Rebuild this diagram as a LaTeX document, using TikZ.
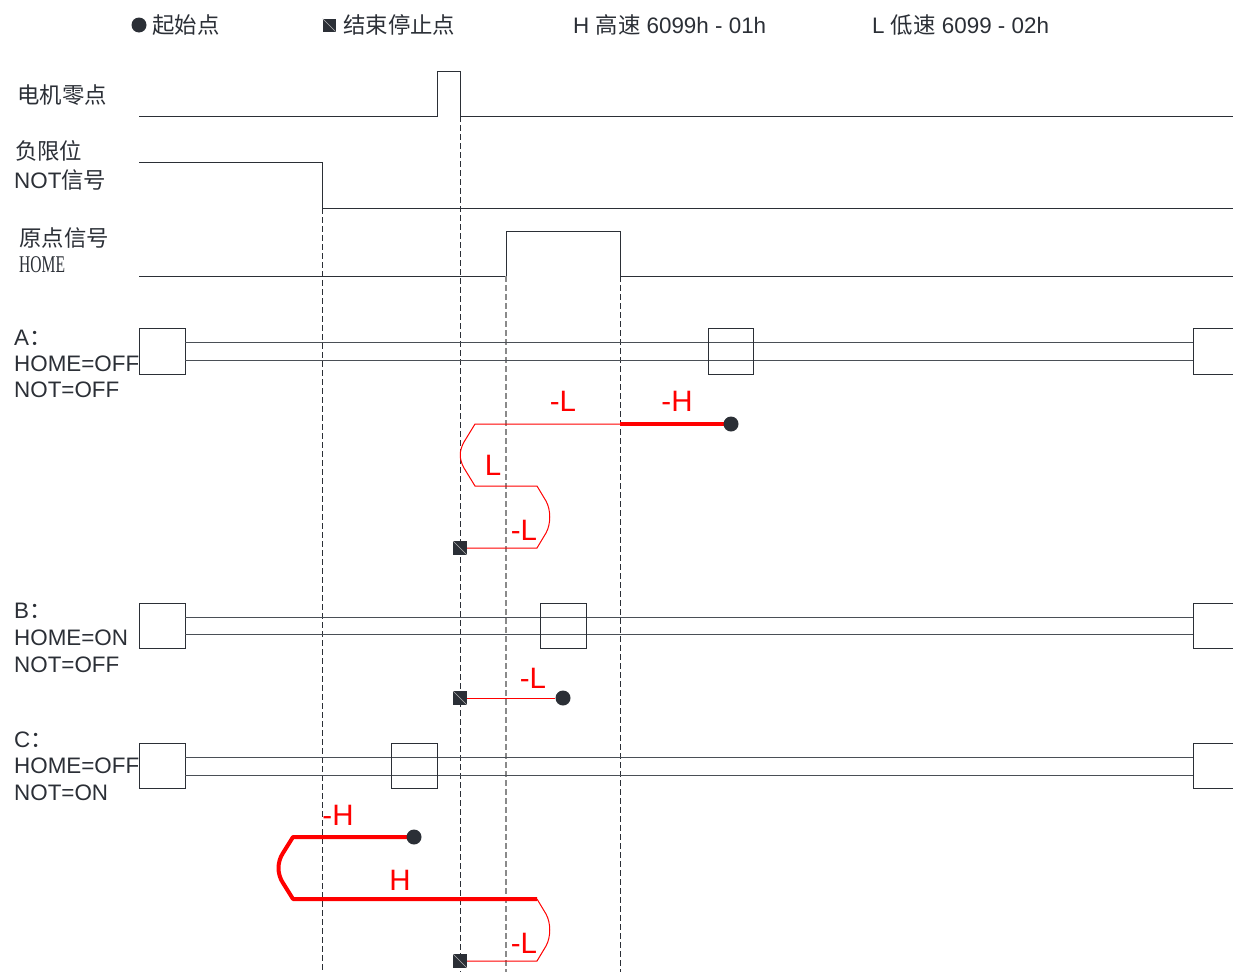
\documentclass[tikz,border=0pt]{standalone}
\usepackage{fontspec}
\setmainfont{Liberation Sans}
\newfontfamily\cjk{Noto Sans CJK SC}
\newfontfamily\serifn{Liberation Serif}
\definecolor{ink}{HTML}{2B2F36}
\definecolor{railc}{HTML}{4A4F56}
\definecolor{dashg}{HTML}{8A8A8A}
\begin{document}
\begin{tikzpicture}[x=1pt,y=-1pt,
 sigline/.style={draw=ink, line width=0.9pt},
 vdash/.style={draw=ink, line width=0.8pt, dash pattern=on 6pt off 3pt},
 vdashlight/.style={draw=dashg, line width=1.3pt, dash pattern=on 6pt off 3pt},
 rail/.style={draw=railc, line width=0.9pt},
 cbox/.style={draw=ink, line width=0.9pt},
 thinred/.style={draw=red, line width=1pt},
 thickred/.style={draw=red, line width=4pt},
 dotm/.style={circle, fill=ink, minimum size=15pt, inner sep=0pt},
 sqm/.style={rectangle, fill=ink, minimum size=14pt, inner sep=0pt,
   path picture={\draw[gray!60, line width=0.6pt] (path picture bounding box.north west) -- (path picture bounding box.south east);}},
 lab/.style={font=\fontsize{22.4}{26}\selectfont, text=ink, inner sep=0pt, anchor=west},
 rlab/.style={font=\fontsize{29.5}{32}\selectfont, text=red, inner sep=0pt},
]
\useasboundingbox (0,0) rectangle (1233,972);

% legend
\node[dotm, minimum size=15pt] (lg1) at (139,25) {};
\node[lab] (lg1t) at (152,25) {\cjk 起始点};
\node[sqm, minimum size=13pt] (lg2) at (329,25) {};
\node[lab] (lg2t) at (343,25) {\cjk 结束停止点};
\node[lab] (lg3) at (573,25) {H {\cjk 高速} 6099h - 01h};
\node[lab] (lg4) at (872,25) {L {\cjk 低速} 6099 - 02h};

% signal labels
\node[lab] (s1) at (17,95) {\cjk 电机零点};
\node[lab] (s2a) at (15,151) {\cjk 负限位};
\node[lab] (s2b) at (14,180) {NOT{\cjk 信号}};
\node[lab] (s3a) at (19,238) {\cjk 原点信号};
\node[lab, font=\fontsize{24}{26}\selectfont\serifn] (s3b) at (19,265) {\scalebox{0.65}[1]{HOME}};

% signals
\draw[sigline] (139,116) -- (437,116) -- (437,71) -- (460,71) -- (460,116) -- (1233,116);
\draw[sigline] (139,162) -- (322,162) -- (322,208) -- (1233,208);
\draw[sigline] (139,276) -- (506,276) -- (506,231) -- (620,231) -- (620,276) -- (1233,276);

% dashed verticals
\draw[vdash] (322,208) -- (322,972);
\draw[vdash] (460,116) -- (460,972);
\draw[vdashlight] (506,276) -- (506,972);
\draw[vdash] (620,276) -- (620,972);

% row A
\node[lab] (a1) at (14,338) {A{\cjk ：}};
\node[lab] (a2) at (14,364) {HOME=OFF};
\node[lab] (a3) at (14,390) {NOT=OFF};
\draw[cbox] (139,328) rectangle (185,374);
\draw[rail] (185,342) -- (1193,342);
\draw[rail] (185,360) -- (1193,360);
\draw[cbox] (708,328) rectangle (753,374);
\draw[cbox] (1233,328) -- (1193,328) -- (1193,374) -- (1233,374);

% row B
\node[lab] (b1) at (14,611) {B{\cjk ：}};
\node[lab] (b2) at (14,638) {HOME=ON};
\node[lab] (b3) at (14,665) {NOT=OFF};
\draw[cbox] (139,603) rectangle (185,648);
\draw[rail] (185,617) -- (1193,617);
\draw[rail] (185,634) -- (1193,634);
\draw[cbox] (540,603) rectangle (586,648);
\draw[cbox] (1233,603) -- (1193,603) -- (1193,648) -- (1233,648);

% row C
\node[lab] (c1) at (14,740) {C{\cjk ：}};
\node[lab] (c2) at (14,766) {HOME=OFF};
\node[lab] (c3) at (14,793) {NOT=ON};
\draw[cbox] (139,743) rectangle (185,788);
\draw[rail] (185,757) -- (1193,757);
\draw[rail] (185,775) -- (1193,775);
\draw[cbox] (391,743) rectangle (437,788);
\draw[cbox] (1233,743) -- (1193,743) -- (1193,788) -- (1233,788);

% path A
\coordinate (aS) at (731,424);
\coordinate (aH) at (620,424);
\coordinate (aE) at (460,548);
\draw[thinred] (aH) -- (475,424) -- (464,442) .. controls (459,451) and (459,459) .. (464,468) -- (475,486)
  -- (537,486) -- (546,501) .. controls (551,510) and (551,524) .. (546,533) -- (537,548) -- (aE);
\draw[thickred] (aH) -- (aS);
\node[dotm] (aSd) at (aS) {};
\node[sqm] (aEs) at (aE) {};
\node[rlab] at (563,401) {-L};
\node[rlab] at (677,401) {-H};
\node[rlab] at (493,465) {L};
\node[rlab] at (524,530) {-L};

% path B
\node[sqm] (bE) at (460,698) {};
\node[dotm] (bS) at (563,698) {};
\draw[thinred] (bE) -- (bS);
\node[rlab] at (533,678) {-L};

% path C
\coordinate (cS) at (414,837);
\coordinate (cT) at (537,899);
\coordinate (cE) at (460,961);
\draw[thickred, line join=round] (cS) -- (293,837) -- (283,853) .. controls (277,862) and (277,874) .. (283,883) -- (293,899) -- (cT);
\draw[thinred] (cT) -- (546,914) .. controls (551,923) and (551,937) .. (546,946) -- (537,961) -- (cE);
\node[dotm] (cSd) at (cS) {};
\node[sqm] (cEs) at (cE) {};
\node[rlab] at (338,815) {-H};
\node[rlab] at (400,880) {H};
\node[rlab] at (524,943) {-L};
\end{tikzpicture}
\end{document}
